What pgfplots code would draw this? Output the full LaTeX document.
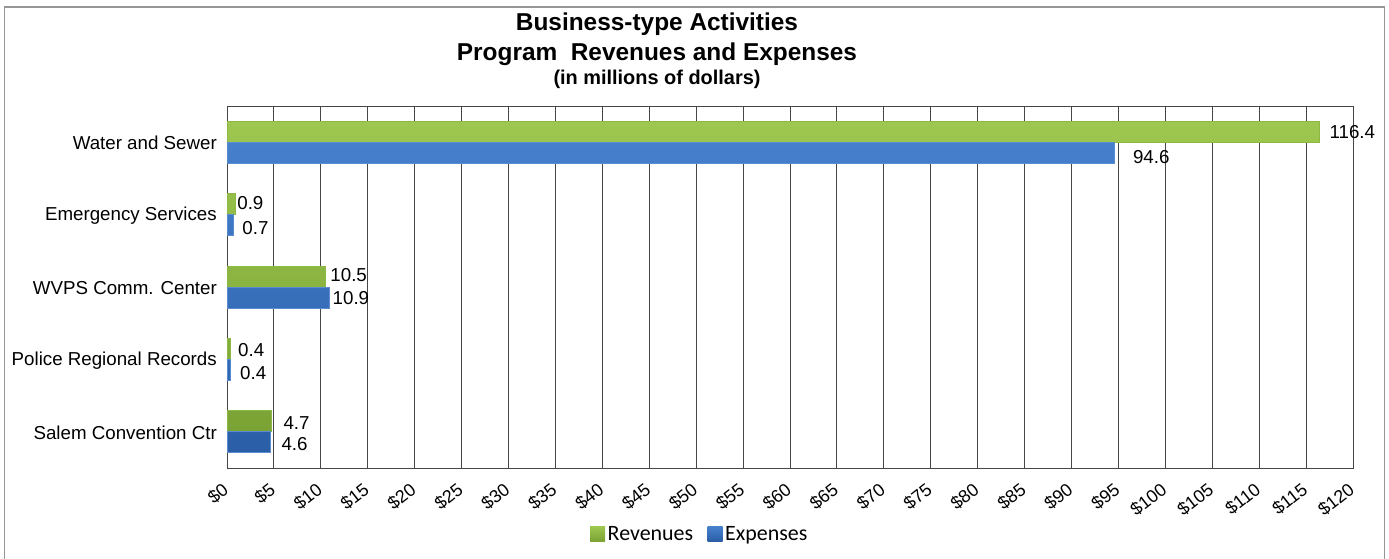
\documentclass[border=0pt]{standalone}
\usepackage{pgfplots}
\usepackage{pgfplotstable}
\pgfplotsset{compat=1.18}
\usepackage{fontspec}
\setmainfont{Liberation Sans}
\newfontfamily\calibri{Carlito}
\definecolor{gridc}{RGB}{70,70,70}
\definecolor{frameg}{RGB}{150,150,150}
\definecolor{greenT}{RGB}{158,199,80}
\definecolor{greenB}{RGB}{122,162,52}
\definecolor{greenD}{RGB}{140,185,70}
\definecolor{blueT}{RGB}{70,128,205}
\definecolor{blueB}{RGB}{42,94,166}
\definecolor{blueD}{RGB}{90,140,210}

\pgfplotstableread{
y x off ys
0 116.4 10 10
1 0.9 1.5 12
2 10.5 4.5 12
3 0.4 7 9
4 4.7 12 9
}\rev
\pgfplotstableread{
y x off ys
0 94.6 18 -15
1 0.7 8.5 -13
2 10.9 3 -11
3 0.4 9 -14
4 4.6 11 -12
}\expn

\begin{document}
\begin{tikzpicture}
\useasboundingbox (0bp,0bp) rectangle (1389bp,559bp);
\draw[frameg, line width=1.8bp] (4.5bp,-10bp) rectangle (1384.5bp,552bp);
\node[font=\fontsize{24.5}{28}\selectfont\bfseries] at (657bp,535bp) {Business-type Activities};
\node[font=\fontsize{24.5}{28}\selectfont\bfseries] at (657bp,505bp) {Program\ \ Revenues and Expenses};
\node[font=\fontsize{20}{24}\selectfont\bfseries] at (657bp,479.5bp) {(in millions of dollars)};
\begin{axis}[
  at={(227bp,91bp)}, anchor=south west,
  scale only axis, width=1126bp, height=362bp,
  clip=false,
  xmin=0, xmax=120, xtick={0,5,...,120},
  ymin=-0.5, ymax=4.5, y dir=reverse,
  ytick={0,1,2,3,4},
  yticklabels={Water and Sewer, Emergency Services, WVPS Comm. Center, Police Regional Records, Salem Convention Ctr},
  major tick length=0pt,
  xmajorgrids,
  major grid style={gridc, line width=0.9bp},
  axis line style={gridc, line width=1bp},
  /pgf/number format/assume math mode=true,
  xticklabel={\$\pgfmathprintnumber{\tick}},
  xticklabel style={font=\fontsize{18}{22}\selectfont, yshift=-19bp, xshift=-1bp, rotate=38, anchor=east, inner sep=0pt},
  yticklabel style={font=\fontsize{18.8}{22}\selectfont, anchor=east, inner sep=0pt, xshift=-10bp, yshift=-1bp},
  legend style={at={(0.4201,-0.1823)}, anchor=center, draw=none, fill=none,
    legend columns=2, font=\calibri\fontsize{22}{24}\selectfont,
    nodes={inner sep=2.5bp},
    /tikz/every even column/.append style={column sep=12bp}},
  legend image code/.code={\path[#1,/tikz/.cd,draw=none] (-5bp,-7.5bp) rectangle (10bp,7.5bp);},
  nodes near coords style={font=\fontsize{18.8}{22}\selectfont, text=black},
]
\addplot[xbar, bar width=21bp, bar shift=10.5bp, draw=greenD, line width=0.8bp,
  top color=greenT, bottom color=greenB,
  nodes near coords,
  visualization depends on={\thisrow{off}\as\xoff},
  visualization depends on={\thisrow{ys}\as\yoff},
  every node near coord/.append style={anchor=west, inner sep=0pt, xshift=\xoff bp, yshift=\yoff bp}]
  table[x=x,y=y] {\rev};
\addplot[xbar, bar width=21bp, bar shift=-10.5bp, draw=blueD, line width=0.8bp,
  top color=blueT, bottom color=blueB,
  nodes near coords,
  visualization depends on={\thisrow{off}\as\xoff},
  visualization depends on={\thisrow{ys}\as\yoff},
  every node near coord/.append style={anchor=west, inner sep=0pt, xshift=\xoff bp, yshift=\yoff bp}]
  table[x=x,y=y] {\expn};
\legend{Revenues, Expenses}
\end{axis}
\end{tikzpicture}
\end{document}
